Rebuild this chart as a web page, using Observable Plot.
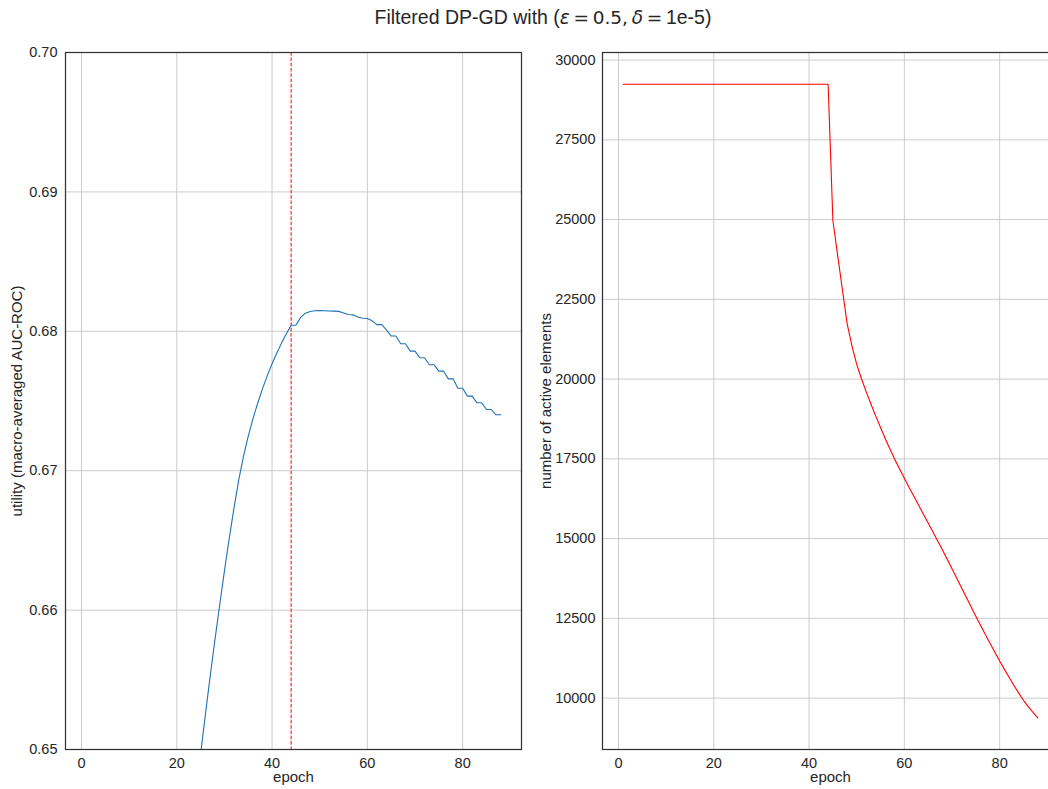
<!DOCTYPE html>
<html>
<head>
<meta charset="utf-8">
<script src="https://cdn.jsdelivr.net/npm/d3@7"></script>
<script src="https://cdn.jsdelivr.net/npm/@observablehq/plot@0.6"></script>
<style>
html, body { margin: 0; padding: 0; background: #fff; overflow: hidden; width: 1048px; height: 789px; }
#wrap { position: relative; width: 1048px; height: 789px; overflow: hidden; }
#title { position: absolute; top: 6px; left: 0; width: 1086px; text-align: center; font-family: "Liberation Sans", Arial, sans-serif; font-size: 19.5px; color: #262626; white-space: nowrap; }
#title .m { font-family: "DejaVu Sans", sans-serif; font-size: 18.5px; }
#title .mi { font-family: "DejaVu Sans", sans-serif; font-style: italic; font-size: 18.5px; }
#left { position: absolute; left: 0; top: 0; width: 540px; height: 789px; }
#right { position: absolute; left: 540px; top: 0; width: 528px; height: 789px; }
#left svg, #right svg { max-width: none !important; height: 789px !important; }
</style>
</head>
<body>
<div id="wrap">
  <div id="title">Filtered DP-GD with (<span class="mi">ε</span><span class="m">&#8201;=&#8201;0.5,&#8201;</span><span class="mi">δ</span><span class="m">&#8201;=&#8201;</span>1e-5)</div>
  <div id="left"></div>
  <div id="right"></div>
</div>
<script>
// ---- data ----
const xTicks = [0, 20, 40, 60, 80];
const utilityTicks = [0.65, 0.66, 0.67, 0.68, 0.69, 0.70];
const activeTicks = [10000, 12500, 15000, 17500, 20000, 22500, 25000, 27500, 30000];
const thresholdEpoch = [44];

const utilityEpoch = [20, 21, 22, 23, 24, 25, 26, 27, 28, 29, 30, 31, 32, 33, 34, 35, 36, 37, 38, 39,
  40, 41, 42, 43, 44, 45, 46, 47, 48, 49, 50, 51, 52, 53, 54, 55, 56, 57, 58, 59,
  60, 61, 62, 63, 64, 65, 66, 67, 68, 69, 70, 71, 72, 73, 74, 75, 76, 77, 78, 79,
  80, 81, 82, 83, 84, 85, 86, 87, 88];
const utility = [0.6341, 0.6374, 0.6406, 0.6437, 0.64675, 0.64965, 0.65248, 0.65523, 0.65785, 0.66035,
  0.66280, 0.66512, 0.66730, 0.66933, 0.67103, 0.67248, 0.67373, 0.67486, 0.67589, 0.67682,
  0.67767, 0.67845, 0.67917, 0.67983, 0.68043, 0.68043, 0.68100, 0.68130, 0.68142, 0.68147,
  0.68148, 0.68147, 0.68146, 0.68145, 0.68143, 0.68132, 0.68120, 0.68118, 0.68102, 0.68094,
  0.68092, 0.68075, 0.68048, 0.68048, 0.68010, 0.67966, 0.67966, 0.67911, 0.67911, 0.67858,
  0.67858, 0.67810, 0.67810, 0.67760, 0.67760, 0.67714, 0.67714, 0.67659, 0.67659, 0.67592,
  0.67592, 0.67535, 0.67535, 0.67487, 0.67487, 0.67439, 0.67439, 0.67401, 0.67401];

const activeEpoch = [1, 2, 3, 4, 5, 6, 7, 8, 9, 10, 11, 12, 13, 14, 15, 16, 17, 18, 19, 20,
  21, 22, 23, 24, 25, 26, 27, 28, 29, 30, 31, 32, 33, 34, 35, 36, 37, 38, 39, 40,
  41, 42, 43, 44, 45, 46, 47, 48, 49, 50, 51, 52, 53, 54, 55, 56, 57, 58, 59, 60,
  61, 62, 63, 64, 65, 66, 67, 68, 69, 70, 71, 72, 73, 74, 75, 76, 77, 78, 79, 80,
  81, 82, 83, 84, 85, 86, 87, 88];
const activeElements = [29245, 29245, 29245, 29245, 29245, 29245, 29245, 29245, 29245, 29245,
  29245, 29245, 29245, 29245, 29245, 29245, 29245, 29245, 29245, 29245,
  29245, 29245, 29245, 29245, 29245, 29245, 29245, 29245, 29245, 29245,
  29245, 29245, 29245, 29245, 29245, 29245, 29245, 29245, 29245, 29245,
  29245, 29245, 29245, 29245, 24970, 23880, 22800, 21730, 21040, 20460,
  20010, 19600, 19210, 18840, 18480, 18130, 17800, 17480, 17180, 16890,
  16605, 16325, 16045, 15765, 15485, 15205, 14925, 14640, 14350, 14055,
  13760, 13460, 13160, 12860, 12565, 12275, 11990, 11710, 11435, 11165,
  10900, 10645, 10395, 10155, 9930, 9730, 9550, 9380];

// ---- styling ----
const FONT = "'Liberation Sans', Arial, sans-serif";
const INK = "#262626";
const GRID = "#cccccc";
const style = { fontFamily: FONT, fontSize: "14.5px", color: INK, background: "transparent", overflow: "visible", maxWidth: "none" };

const utilData = utilityEpoch.map((e, i) => ({ epoch: e, value: utility[i] }));
const activeData = activeEpoch.map((e, i) => ({ epoch: e, value: activeElements[i] }));

const left = Plot.plot({
  width: 540, height: 789,
  marginLeft: 65, marginRight: 19, marginTop: 52, marginBottom: 40,
  style,
  x: { domain: [-3.35, 92.35] },
  y: { domain: [0.65, 0.70] },
  marks: [
    Plot.gridX(xTicks, { stroke: GRID, strokeOpacity: 1, strokeWidth: 1 }),
    Plot.gridY(utilityTicks, { stroke: GRID, strokeOpacity: 1, strokeWidth: 1 }),
    Plot.axisX(xTicks, { tickSize: 0, tickPadding: 8, fontSize: 14.5, label: null }),
    Plot.axisX({ ticks: [], label: "epoch", labelAnchor: "center", labelArrow: "none", labelOffset: 32, fontSize: 15 }),
    Plot.axisY(utilityTicks, { tickSize: 0, tickPadding: 8, fontSize: 14.5, tickFormat: d3.format(".2f"), label: null }),
    Plot.axisY({ ticks: [], label: "utility (macro-averaged AUC-ROC)", labelAnchor: "center", labelArrow: "none", labelOffset: 54, fontSize: 15 }),
    Plot.ruleX(thresholdEpoch, { stroke: "#ff0000", strokeWidth: 1, strokeDasharray: "3.7,1.6" }),
    Plot.line(utilData, { x: "epoch", y: "value", stroke: "#1f72b8", strokeWidth: 1.1, clip: true }),
    Plot.frame({ stroke: "#333333", strokeWidth: 1.25 })
  ]
});
document.getElementById("left").appendChild(left);

const right = Plot.plot({
  width: 528, height: 789,
  marginLeft: 62, marginRight: 10, marginTop: 52, marginBottom: 40,
  style,
  x: { domain: [-3.35, 92.35] },
  y: { domain: [8388, 30238] },
  marks: [
    Plot.gridX(xTicks, { stroke: GRID, strokeOpacity: 1, strokeWidth: 1 }),
    Plot.gridY(activeTicks, { stroke: GRID, strokeOpacity: 1, strokeWidth: 1 }),
    Plot.axisX(xTicks, { tickSize: 0, tickPadding: 8, fontSize: 14.5, label: null }),
    Plot.axisX({ ticks: [], label: "epoch", labelAnchor: "center", labelArrow: "none", labelOffset: 32, fontSize: 15 }),
    Plot.axisY(activeTicks, { tickSize: 0, tickPadding: 7, fontSize: 14.5, tickFormat: d3.format("d"), label: null }),
    Plot.axisY({ ticks: [], label: "number of active elements", labelAnchor: "center", labelArrow: "none", labelOffset: 62, fontSize: 15 }),
    Plot.line(activeData, { x: "epoch", y: "value", stroke: "#ff0000", strokeWidth: 1.1, clip: true }),
    Plot.frame({ stroke: "#333333", strokeWidth: 1.25 })
  ]
});
document.getElementById("right").appendChild(right);
</script>
</body>
</html>
